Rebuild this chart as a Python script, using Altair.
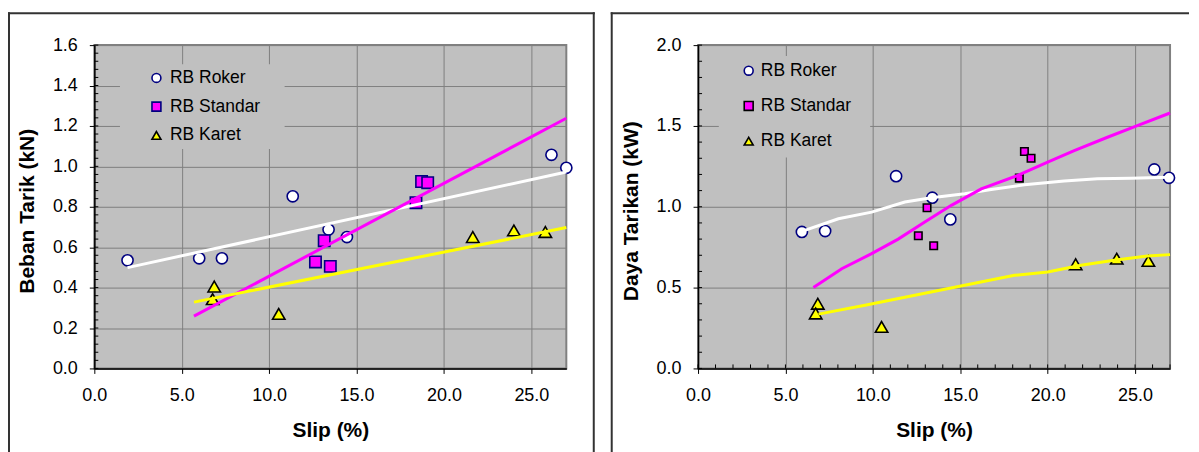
import altair as alt
import pandas as pd

FONT = "Liberation Sans"
SERIES = ["RB Roker", "RB Standar", "RB Karet"]
SHAPES = ["circle", "square", "triangle-up"]
FILLS = ["#ffffff", "#ff00ff", "#ffff00"]
TREND_COLORS = ["#ffffff", "#ff00ff", "#ffff00"]

# ---------------- Left panel: Beban Tarik (kN) ----------------
roker_slip_L = [1.9, 6.0, 7.3, 11.35, 13.4, 14.45, 26.15, 27.0]
roker_val_L = [0.535, 0.545, 0.545, 0.852, 0.687, 0.65, 1.057, 0.993]
standar_slip_L = [12.65, 13.15, 13.5, 18.4, 18.72, 19.07]
standar_val_L = [0.527, 0.632, 0.505, 0.82, 0.925, 0.919]
karet_slip_L = [6.86, 6.77, 10.55, 21.65, 24.0, 25.8]
karet_val_L = [0.405, 0.343, 0.27, 0.65, 0.683, 0.675]

trend_roker_L_x = [1.9, 27.0]
trend_roker_L_y = [0.499, 0.972]
trend_standar_L_x = [5.7, 27.0]
trend_standar_L_y = [0.259, 1.238]
trend_karet_L_x = [5.7, 27.0]
trend_karet_L_y = [0.328, 0.697]

y_ticks_L = [0.0, 0.2, 0.4, 0.6, 0.8, 1.0, 1.2, 1.4, 1.6]
minor_y_L = [round(i * 0.04, 2) for i in range(41)]

# ---------------- Right panel: Daya Tarikan (kW) ----------------
roker_slip_R = [5.94, 7.27, 11.33, 13.4, 14.43, 26.1, 26.94]
roker_val_R = [0.844, 0.85, 1.189, 1.056, 0.922, 1.231, 1.179]
standar_slip_R = [12.6, 13.1, 13.48, 18.38, 18.67, 19.05]
standar_val_R = [0.821, 0.994, 0.759, 1.177, 1.342, 1.30]
karet_slip_R = [6.85, 6.73, 10.5, 21.6, 23.95, 25.76]
karet_val_R = [0.40, 0.34, 0.257, 0.644, 0.679, 0.665]

trend_roker_R_x = [5.94, 8.03, 9.93, 11.83, 13.35, 15.25, 16.77, 18.67, 20.95, 22.85, 24.75, 26.94]
trend_roker_R_y = [0.848, 0.926, 0.967, 1.029, 1.056, 1.08, 1.107, 1.136, 1.159, 1.173, 1.177, 1.183]
trend_standar_R_x = [6.6, 8.22, 9.93, 11.45, 12.97, 14.49, 16.2, 18.29, 20.0, 21.52, 23.42, 25.13, 27.0]
trend_standar_R_y = [0.50, 0.617, 0.71, 0.80, 0.906, 1.009, 1.111, 1.194, 1.276, 1.348, 1.43, 1.502, 1.58]
trend_karet_R_x = [6.89, 9.55, 12.4, 15.25, 18.1, 20.0, 21.9, 23.8, 25.7, 27.0]
trend_karet_R_y = [0.336, 0.391, 0.453, 0.515, 0.576, 0.597, 0.638, 0.669, 0.696, 0.704]

y_ticks_R = [0.0, 0.5, 1.0, 1.5, 2.0]
minor_y_R = [round(i * 0.1, 1) for i in range(21)]
minor_x_R = list(range(28))

x_ticks = [0, 5, 10, 15, 20, 25]

W, H = 473, 324


def points_df(slips, vals):
    rows = []
    for name, xs, ys in zip(SERIES, slips, vals):
        for x, y in zip(xs, ys):
            rows.append({"slip": x, "value": y, "series": name})
    return pd.DataFrame(rows)


def trend_df(xs, ys):
    return pd.DataFrame({"slip": xs, "value": ys})


def panel(pts, trends, sizes, strokes, y_max, y_ticks, y_title,
          minor_y, minor_x, box, frame, leg, right_edge):
    xs = alt.Scale(domain=[0, 27], nice=False, zero=False)
    ys = alt.Scale(domain=[0, y_max], nice=False, zero=False)
    x_axis = alt.Axis(values=x_ticks, format=".1f", title="Slip (%)",
                      titleY=62, titleBaseline="middle", labelPadding=13.5,
                      labelFlush=False, grid=True)
    y_axis = alt.Axis(values=y_ticks, format=".1f", title=y_title,
                      titleX=-67, titleY=166, titleAngle=270,
                      titleAlign="center", titleBaseline="middle",
                      labelPadding=12, grid=True)
    X = alt.X("slip:Q", scale=xs, axis=x_axis)
    Y = alt.Y("value:Q", scale=ys, axis=y_axis)

    legend = alt.Legend(orient="none", legendX=leg["x"], legendY=leg["y"],
                        title=None, symbolSize=80, symbolStrokeWidth=1.6,
                        symbolOffset=0, labelOffset=leg["lo"],
                        rowPadding=leg["rp"], padding=0,
                        labelFont=FONT, labelFontSize=17.5, labelColor="#000000",
                        labelLimit=300)
    fill = alt.Fill("series:N", scale=alt.Scale(domain=SERIES, range=FILLS), legend=legend)
    stroke = alt.Stroke("series:N", scale=alt.Scale(domain=SERIES, range=strokes), legend=legend)
    shape = alt.Shape("series:N", scale=alt.Scale(domain=SERIES, range=SHAPES), legend=legend)

    one = alt.Data(values=[{"k": 1}])
    layers = []
    # legend background box (hides the grid behind the legend)
    layers.append(alt.Chart(one).mark_rect(fill="#c0c0c0").encode(
        x=alt.value(box[0]), x2=alt.value(box[1]),
        y=alt.value(box[2]), y2=alt.value(box[3])))
    # minor ticks (inside)
    layers.append(alt.Chart(pd.DataFrame({"value": minor_y})).mark_rule(
        color="#000000", strokeWidth=1).encode(
        y=Y, x=alt.value(0), x2=alt.value(4)))
    if minor_x:
        layers.append(alt.Chart(pd.DataFrame({"slip": minor_x})).mark_rule(
            color="#000000", strokeWidth=1).encode(
            x=X, y=alt.value(H), y2=alt.value(H - 4)))
    # points
    for name, size in zip(SERIES, sizes):
        layers.append(alt.Chart(pts).transform_filter(
            alt.datum.series == name).mark_point(
            filled=True, size=size, strokeWidth=1.6, opacity=1).encode(
            x=X, y=Y, fill=fill, stroke=stroke, shape=shape))
    # trend lines
    for tdf, col in zip(trends, TREND_COLORS):
        layers.append(alt.Chart(tdf).mark_line(
            color=col, strokeWidth=3).encode(x=X, y=Y))
    # outer frame of the panel
    fl, fr, ft, fb = frame
    fstyle = dict(color="#333333", strokeWidth=2, strokeCap="square")
    layers.append(alt.Chart(one).mark_rule(**fstyle).encode(
        x=alt.value(fl), y=alt.value(ft), y2=alt.value(fb)))
    layers.append(alt.Chart(one).mark_rule(**fstyle).encode(
        x=alt.value(fl), x2=alt.value(fr), y=alt.value(ft)))
    if right_edge:
        layers.append(alt.Chart(one).mark_rule(**fstyle).encode(
            x=alt.value(fr), y=alt.value(ft), y2=alt.value(fb)))
    return alt.layer(*layers).properties(width=W, height=H)


left = panel(
    points_df([roker_slip_L, standar_slip_L, karet_slip_L],
              [roker_val_L, standar_val_L, karet_val_L]),
    [trend_df(trend_roker_L_x, trend_roker_L_y),
     trend_df(trend_standar_L_x, trend_standar_L_y),
     trend_df(trend_karet_L_x, trend_karet_L_y)],
    [125, 130, 155], ["#000080", "#000080", "#000000"],
    1.6, y_ticks_L, "Beban Tarik (kN)", minor_y_L, None,
    (25.7, 190.7, 19.3, 104),
    (-85.5, 500.5, -32, 430),
    {"x": 53.5, "y": 24.1, "lo": 4.8, "rp": 9.8},
    True,
)

right = panel(
    points_df([roker_slip_R, standar_slip_R, karet_slip_R],
              [roker_val_R, standar_val_R, karet_val_R]),
    [trend_df(trend_roker_R_x, trend_roker_R_y),
     trend_df(trend_standar_R_x, trend_standar_R_y),
     trend_df(trend_karet_R_x, trend_karet_R_y)],
    [125, 56, 155], ["#000080", "#000000", "#000000"],
    2.0, y_ticks_R, "Daya Tarikan (kW)", minor_y_R, minor_x_R,
    (20.8, 172.5, 11, 112.6),
    (-86.5, 491, -32, 430),
    {"x": 42, "y": 16.9, "lo": 3.4, "rp": 16.3},
    False,
)

chart = alt.hconcat(left, right, spacing=132, bounds="flush").resolve_scale(
    fill="independent", stroke="independent", shape="independent"
).properties(
    padding={"left": -1.5, "top": 1.7, "right": 0, "bottom": 0}
).configure(font=FONT).configure_view(
    fill="#c0c0c0", stroke="#808080", strokeWidth=2
).configure_axis(
    labelFont=FONT, labelFontSize=18, labelColor="#000000",
    titleFont=FONT, titleFontSize=21, titleFontWeight="bold", titleColor="#000000",
    domainColor="#000000", domainWidth=1.5,
    tickColor="#000000", tickSize=5, tickWidth=1,
    gridColor="#808080", gridWidth=1, labelOverlap=False,
)

chart.save("out.html", embed_options={"renderer": "svg", "actions": False})
